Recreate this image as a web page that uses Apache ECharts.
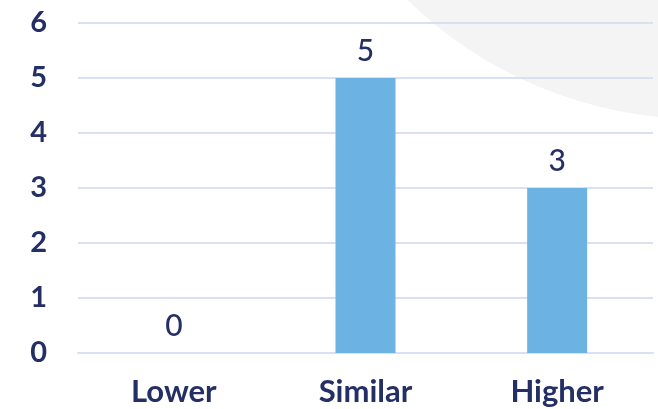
<!DOCTYPE html>
<html><head><meta charset="utf-8">
<script src="https://cdn.jsdelivr.net/npm/echarts@6/dist/echarts.min.js"></script>
<style>html,body{margin:0;padding:0;background:#fff}#c{width:658px;height:409px}</style>
</head><body><div id="c"></div>
<script>
const categories = ["Lower", "Similar", "Higher"];
const values = [0, 5, 3];
const yTicks = [0, 1, 2, 3, 4, 5, 6];

const navy = "#242f66";
const chart = echarts.init(document.getElementById('c'), null, {renderer: 'canvas'});
chart.setOption({
  animation: false,
  backgroundColor: '#ffffff',
  graphic: [{
    type: 'circle', z: -10, silent: true,
    shape: {cx: 700, cy: -300, r: 419},
    style: {fill: '#f4f4f4'}
  }],
  grid: {left: 78, right: 5, top: 23, bottom: 56, containLabel: false, outerBoundsMode: 'none'},
  xAxis: {
    type: 'category', data: categories,
    axisLine: {show: true, lineStyle: {color: '#d8e0f1', width: 2}},
    axisTick: {show: false},
    axisLabel: {color: navy, fontFamily: 'Lato', fontWeight: 'bold', fontSize: 31, margin: 23}
  },
  yAxis: {
    type: 'value', min: yTicks[0], max: yTicks[yTicks.length - 1], interval: 1,
    axisLine: {show: false}, axisTick: {show: false},
    splitLine: {lineStyle: {color: '#d8e0f1', width: 2}},
    axisLabel: {color: navy, fontFamily: 'Lato', fontWeight: 'bold', fontSize: 29, margin: 31}
  },
  series: [{
    type: 'bar', data: values, barWidth: 60,
    itemStyle: {color: '#6cb2e3'},
    label: {show: true, position: 'top', distance: 12, color: navy, fontFamily: 'Lato', fontWeight: 500, fontSize: 30}
  }]
});
</script></body></html>
